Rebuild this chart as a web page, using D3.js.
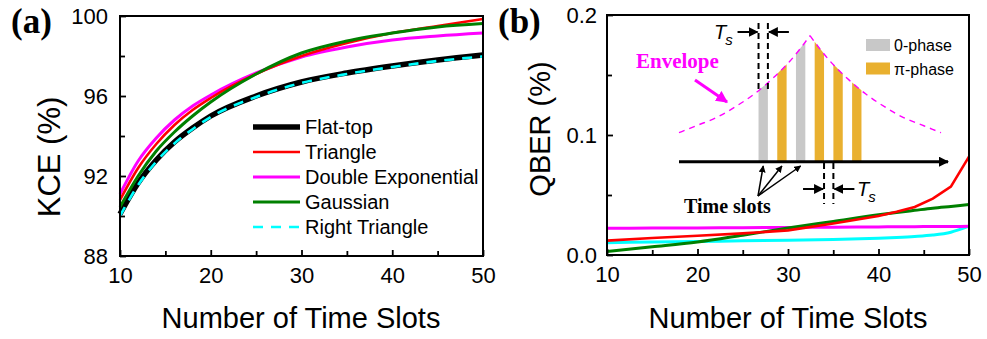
<!DOCTYPE html>
<html>
<head>
<meta charset="utf-8">
<script src="https://cdn.jsdelivr.net/npm/d3@7"></script>
<style>
  body { margin: 0; background: #fff; }
  svg { display: block; font-family: 'Liberation Sans', Arial, sans-serif; }
</style>
</head>
<body>
<svg></svg>
<script>
// ---- data, panel (a): key capacity efficiency vs number of slots ----
const kceSlots = [10, 12, 14, 16, 18, 20, 25, 30, 35, 40, 45, 50];
const flatTop = [90.1, 91.65, 92.8, 93.7, 94.4, 95.0, 96.0, 96.7, 97.15, 97.5, 97.8, 98.05];
const triangle = [90.8, 92.4, 93.6, 94.55, 95.3, 95.9, 97.1, 98.0, 98.65, 99.15, 99.5, 99.85];
const doubleExp = [91.1, 92.75, 93.9, 94.8, 95.5, 96.05, 97.15, 97.95, 98.45, 98.8, 99.0, 99.15];
const gaussian = [90.45, 92.0, 93.25, 94.2, 95.0, 95.7, 97.1, 98.15, 98.75, 99.15, 99.45, 99.62];
const rightTriangle = [90.0, 91.55, 92.72, 93.63, 94.34, 94.95, 95.95, 96.65, 97.1, 97.45, 97.75, 97.98];

// ---- data, panel (b): QBER vs number of slots ----
const qberSlots = [10, 15, 20, 25, 30, 35, 40, 42, 44, 46, 48, 50];
const qberFlatTop = [0, 0, 0, 0, 0, 0, 0, 0, 0, 0, 0, 0];
const qberTriangle = [0.012, 0.0142, 0.016, 0.018, 0.0205, 0.0262, 0.0325, 0.036, 0.040, 0.047, 0.057, 0.082];
const qberDoubleExp = [0.0222, 0.0224, 0.0226, 0.0228, 0.023, 0.0232, 0.0234, 0.0235, 0.0236, 0.0237, 0.0238, 0.0239];
const qberGaussian = [0.003, 0.0068, 0.0108, 0.0165, 0.0225, 0.028, 0.0335, 0.0354, 0.0372, 0.039, 0.0405, 0.042];
const qberRightTriangle = [0.0103, 0.0108, 0.0113, 0.0118, 0.0123, 0.013, 0.014, 0.0146, 0.0154, 0.0166, 0.019, 0.024];

// ticks
const xTicks = [10, 20, 30, 40, 50];
const xMinor = [15, 25, 35, 45];
const kceTicks = [88, 92, 96, 100];
const kceMinor = [90, 94, 98];
const qberTicks = [0, 0.1, 0.2];
const qberMinor = [0.05, 0.15];

// inset schematic: envelope amplitude over time (in slot units)
const envT = [-14, -12, -10, -8, -6, -4, -2, 0, 2, 4, 6, 8, 10, 12, 14];
const envAmp = [0.23, 0.29, 0.35, 0.435, 0.535, 0.66, 0.81, 1, 0.81, 0.66, 0.535, 0.435, 0.35, 0.29, 0.23];
const slotStart = [-5.5, -3.5, -1.5, 0.5, 2.5, 4.5];
const slotPhase = ['0', 'pi', '0', 'pi', 'pi', 'pi'];

const names = ['Flat-top', 'Triangle', 'Double Exponential', 'Gaussian', 'Right Triangle'];

const w = 987;
const h = 339;
const svg = d3.select('svg').attr('width', w).attr('height', h);

const styles = {
  'Flat-top': { color: '#000', width: 5.5, dash: null },
  'Triangle': { color: '#ff0000', width: 2.6, dash: null },
  'Double Exponential': { color: '#ff00ff', width: 3, dash: null },
  'Gaussian': { color: '#008000', width: 3, dash: null },
  'Right Triangle': { color: '#00ffff', width: 2.6, dash: '10,8' },
};

const defs = svg.append('defs');
function marker(id, color, size) {
  defs.append('marker')
    .attr('id', id)
    .attr('viewBox', '0 0 10 10')
    .attr('refX', 9).attr('refY', 5)
    .attr('markerUnits', 'userSpaceOnUse')
    .attr('markerWidth', size).attr('markerHeight', size)
    .attr('orient', 'auto')
    .append('path')
    .attr('d', 'M0,0 L10,5 L0,10 Z')
    .attr('fill', color);
}
marker('arrowBlack', '#000', 10);
marker('arrowSmall', '#000', 7);
marker('arrowPink', '#ff00ff', 12);

// draws frame, ticks and labels of one panel
function drawAxes(xScale, yScale, yTicks, yMinor, yFmt, yPad) {
  const [x0, x1] = xScale.range();
  const [y0, y1] = yScale.range();

  svg.append('g')
    .attr('transform', 'translate(0,' + y0 + ')')
    .call(d3.axisBottom(xScale).tickValues(xTicks).tickSizeInner(-6).tickSizeOuter(0).tickPadding(11))
    .call((g) => g.select('.domain').remove());
  svg.append('g')
    .attr('transform', 'translate(0,' + y0 + ')')
    .call(d3.axisBottom(xScale).tickValues(xMinor).tickFormat('').tickSizeInner(-5).tickSizeOuter(0))
    .call((g) => g.select('.domain').remove());
  svg.append('g')
    .attr('transform', 'translate(' + x0 + ',0)')
    .call(d3.axisLeft(yScale).tickValues(yTicks).tickFormat(yFmt).tickSizeInner(-6).tickSizeOuter(0).tickPadding(yPad))
    .call((g) => g.select('.domain').remove());
  svg.append('g')
    .attr('transform', 'translate(' + x0 + ',0)')
    .call(d3.axisLeft(yScale).tickValues(yMinor).tickFormat('').tickSizeInner(-5).tickSizeOuter(0))
    .call((g) => g.select('.domain').remove());

  svg.selectAll('.tick text')
    .attr('font-size', 22)
    .attr('font-family', 'Liberation Sans, Arial, sans-serif')
    .attr('fill', '#000');
  svg.selectAll('.tick line').attr('stroke', '#000').attr('stroke-width', 1.8);

  svg.append('rect')
    .attr('x', x0).attr('y', y1)
    .attr('width', x1 - x0).attr('height', y0 - y1)
    .attr('fill', 'none').attr('stroke', '#000').attr('stroke-width', 2);
}

// one curve; extra can override the legend style (e.g. solid cyan in (b))
function drawSeries(xScale, yScale, xs, ys, name, curve, extra) {
  const s = Object.assign({}, styles[name], extra || {});
  const line = d3.line()
    .x((d, i) => xScale(xs[i]))
    .y((d) => yScale(d))
    .curve(curve);
  svg.append('path')
    .datum(ys)
    .attr('d', line)
    .attr('fill', 'none')
    .attr('stroke', s.color)
    .attr('stroke-width', s.width)
    .attr('stroke-dasharray', s.dash);
}

// ================= panel (a) =================
const xA = d3.scaleLinear().domain([10, 50]).range([120, 483]);
const yA = d3.scaleLinear().domain([88, 100]).range([256, 16]);

drawSeries(xA, yA, kceSlots, flatTop, 'Flat-top', d3.curveMonotoneX);
drawSeries(xA, yA, kceSlots, rightTriangle, 'Right Triangle', d3.curveMonotoneX);
drawSeries(xA, yA, kceSlots, doubleExp, 'Double Exponential', d3.curveMonotoneX);
drawSeries(xA, yA, kceSlots, triangle, 'Triangle', d3.curveMonotoneX);
drawSeries(xA, yA, kceSlots, gaussian, 'Gaussian', d3.curveMonotoneX);

drawAxes(xA, yA, kceTicks, kceMinor, d3.format('d'), 12);

// legend (a)
const legend = svg.append('g').attr('transform', 'translate(253,127)');
names.forEach((n, i) => {
  const s = styles[n];
  legend.append('line')
    .attr('x1', 0).attr('x2', 47)
    .attr('y1', i * 25).attr('y2', i * 25)
    .attr('stroke', s.color)
    .attr('stroke-width', s.width)
    .attr('stroke-dasharray', s.dash);
  legend.append('text')
    .attr('x', 52).attr('y', i * 25 + 7)
    .attr('font-size', 20)
    .text(n);
});

svg.append('text')
  .attr('x', 301).attr('y', 328)
  .attr('text-anchor', 'middle')
  .attr('font-size', 29)
  .text('Number of Time Slots');
svg.append('text')
  .attr('transform', 'translate(60,157) rotate(-90)')
  .attr('text-anchor', 'middle')
  .attr('font-size', 31)
  .text('KCE (%)');
svg.append('text')
  .attr('x', 11).attr('y', 33)
  .attr('font-family', 'Liberation Serif, Times New Roman, serif')
  .attr('font-weight', 'bold')
  .attr('font-size', 35)
  .text('(a)');

// ================= panel (b) =================
const xB = d3.scaleLinear().domain([10, 50]).range([607, 969]);
const yB = d3.scaleLinear().domain([0, 0.2]).range([255, 15]);

drawSeries(xB, yB, qberSlots, qberFlatTop, 'Flat-top', d3.curveLinear, { width: 2 });
drawSeries(xB, yB, qberSlots, qberRightTriangle, 'Right Triangle', d3.curveMonotoneX, { dash: null, width: 3 });
drawSeries(xB, yB, qberSlots, qberDoubleExp, 'Double Exponential', d3.curveMonotoneX);
drawSeries(xB, yB, qberSlots, qberGaussian, 'Gaussian', d3.curveMonotoneX);
drawSeries(xB, yB, qberSlots, qberTriangle, 'Triangle', d3.curveLinear);

drawAxes(xB, yB, qberTicks, qberMinor, d3.format('.1f'), 10);

svg.append('text')
  .attr('x', 788).attr('y', 328)
  .attr('text-anchor', 'middle')
  .attr('font-size', 29)
  .text('Number of Time Slots');
svg.append('text')
  .attr('transform', 'translate(550,129) rotate(-90)')
  .attr('text-anchor', 'middle')
  .attr('font-size', 29)
  .text('QBER (%)');
svg.append('text')
  .attr('x', 498).attr('y', 33)
  .attr('font-family', 'Liberation Serif, Times New Roman, serif')
  .attr('font-weight', 'bold')
  .attr('font-size', 35)
  .text('(b)');

// ---- inset schematic ----
const tI = d3.scaleLinear().domain([-14, 14]).range([679, 941]);
const aI = d3.scaleLinear().domain([0, 1]).range([161.7, 35.7]);
const envAt = d3.scaleLinear().domain(envT).range(envAmp);

// bars with tops following envelope
svg.append('g')
  .selectAll('path')
  .data(slotStart)
  .enter()
  .append('path')
  .attr('d', (t) => {
    const t1 = t + 1;
    return 'M' + tI(t) + ',' + aI(0) +
      'L' + tI(t) + ',' + aI(envAt(t)) +
      'L' + tI(t1) + ',' + aI(envAt(t1)) +
      'L' + tI(t1) + ',' + aI(0) + 'Z';
  })
  .attr('fill', (t, i) => (slotPhase[i] === '0' ? '#c8c8c8' : '#e9b02f'));

// envelope as two monotone halves to keep the cusp
const envLine = d3.line()
  .x((d) => tI(d[0]))
  .y((d) => aI(d[1]))
  .curve(d3.curveMonotoneX);
const envPts = envT.map((t, i) => [t, envAmp[i]]);
[envPts.slice(0, 8), envPts.slice(7)].forEach((pts) => {
  svg.append('path')
    .attr('d', envLine(pts))
    .attr('fill', 'none')
    .attr('stroke', '#ff00ff')
    .attr('stroke-width', 1.4)
    .attr('stroke-dasharray', '6,5');
});

// time axis arrow
svg.append('line')
  .attr('x1', tI(-14)).attr('x2', 948)
  .attr('y1', aI(0)).attr('y2', aI(0))
  .attr('stroke', '#000').attr('stroke-width', 3)
  .attr('marker-end', 'url(#arrowBlack)');

// Ts markers
function tsMarker(tA, tB, yTop, yBot, yArrow) {
  [tA, tB].forEach((t) => {
    svg.append('line')
      .attr('x1', tI(t)).attr('x2', tI(t))
      .attr('y1', yTop).attr('y2', yBot)
      .attr('stroke', '#000').attr('stroke-width', 2)
      .attr('stroke-dasharray', '6,4');
  });
  svg.append('line')
    .attr('x1', tI(tA) - 21).attr('x2', tI(tA) - 1)
    .attr('y1', yArrow).attr('y2', yArrow)
    .attr('stroke', '#000').attr('stroke-width', 2)
    .attr('marker-end', 'url(#arrowBlack)');
  svg.append('line')
    .attr('x1', tI(tB) + 21).attr('x2', tI(tB) + 1)
    .attr('y1', yArrow).attr('y2', yArrow)
    .attr('stroke', '#000').attr('stroke-width', 2)
    .attr('marker-end', 'url(#arrowBlack)');
}
tsMarker(-5.5, -4.5, 23, aI(envAt(-5.5)), 32);
tsMarker(1.5, 2.5, 163, 204, 189);

function tsLabel(x, y) {
  const t = svg.append('text')
    .attr('x', x).attr('y', y)
    .attr('font-size', 20)
    .attr('font-style', 'italic');
  t.append('tspan').text('T');
  t.append('tspan').attr('font-size', 15).attr('dy', 6).attr('dx', -1).text('s');
}
tsLabel(714, 39);
tsLabel(857, 196);

// Time slots label with arrows
svg.append('text')
  .attr('x', 684).attr('y', 213)
  .attr('font-family', 'Liberation Serif, Times New Roman, serif')
  .attr('font-weight', 'bold')
  .attr('font-size', 20)
  .text('Time slots');
[-5, -3, -1].forEach((t) => {
  svg.append('line')
    .attr('x1', 758).attr('y1', 196)
    .attr('x2', tI(t)).attr('y2', 166)
    .attr('stroke', '#000').attr('stroke-width', 1.5)
    .attr('marker-end', 'url(#arrowSmall)');
});

// Envelope label with arrow
svg.append('text')
  .attr('x', 636).attr('y', 68)
  .attr('font-family', 'Liberation Serif, Times New Roman, serif')
  .attr('font-weight', 'bold')
  .attr('font-size', 21)
  .attr('fill', '#ff00ff')
  .text('Envelope');
svg.append('line')
  .attr('x1', 695).attr('y1', 80)
  .attr('x2', 727).attr('y2', 102)
  .attr('stroke', '#ff00ff').attr('stroke-width', 3)
  .attr('marker-end', 'url(#arrowPink)');

// inset legend
[['#c8c8c8', '0-phase'], ['#e9b02f', 'π-phase']].forEach((d, i) => {
  svg.append('rect')
    .attr('x', 866).attr('y', 39 + i * 23.5)
    .attr('width', 24).attr('height', 12)
    .attr('fill', d[0]);
  svg.append('text')
    .attr('x', 894).attr('y', 51 + i * 23.5)
    .attr('font-size', 16)
    .text(d[1]);
});
</script>
</body>
</html>
